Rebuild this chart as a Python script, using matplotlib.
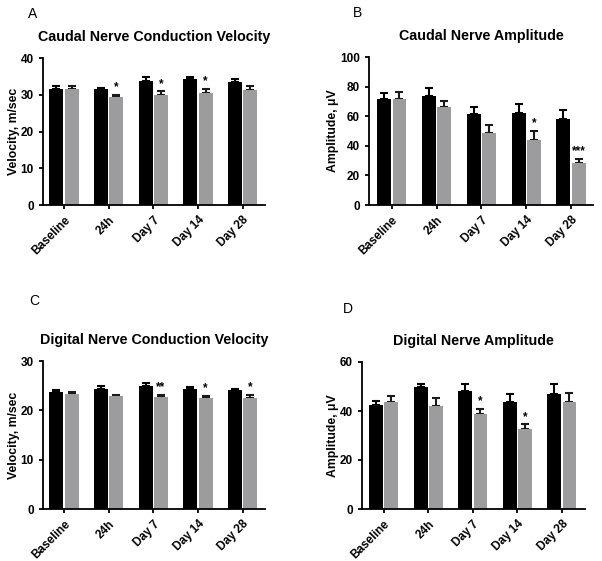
import matplotlib
matplotlib.use("Agg")
import matplotlib.pyplot as plt
import numpy as np

plt.rcParams['font.family'] = ['Liberation Sans', 'DejaVu Sans']
plt.rcParams['font.weight'] = 'bold'

groups = ["Baseline", "24h", "Day 7", "Day 14", "Day 28"]

# A - caudal NCV
a_ctrl = [31.5, 31.5, 33.8, 34.2, 33.6]
a_ctrl_err = [1.0, 0.3, 0.9, 0.6, 0.8]
a_trt = [31.5, 29.4, 29.8, 30.6, 31.4]
a_trt_err = [0.9, 0.6, 1.1, 1.1, 1.1]
a_stars = ["", "*", "*", "*", ""]

# B - caudal amplitude
b_ctrl = [71.6, 73.8, 61.4, 62.3, 58.2]
b_ctrl_err = [4.4, 5.4, 4.5, 5.9, 5.9]
b_trt = [71.6, 66.1, 48.5, 44.2, 28.2]
b_trt_err = [4.7, 4.3, 5.5, 5.9, 3.2]
b_stars = ["", "", "", "*", "***"]

# C - digital NCV
c_ctrl = [23.7, 24.4, 25.0, 24.4, 24.05]
c_ctrl_err = [0.35, 0.6, 0.5, 0.4, 0.25]
c_trt = [23.4, 22.9, 22.8, 22.6, 22.5]
c_trt_err = [0.3, 0.3, 0.3, 0.35, 0.7]
c_stars = ["", "", "**", "*", "*"]

# D - digital amplitude
d_ctrl = [42.6, 49.7, 48.0, 43.8, 46.9]
d_ctrl_err = [1.6, 1.5, 3.0, 3.1, 4.1]
d_trt = [43.7, 42.1, 38.7, 32.6, 43.6]
d_trt_err = [2.6, 3.2, 2.3, 2.0, 3.6]
d_stars = ["", "", "*", "*", ""]

W, H = 602, 561
fig = plt.figure(figsize=(W/100, H/100), dpi=100)

def px_axes(left, top, right, bottom):
    return fig.add_axes([left/W, 1-bottom/H, (right-left)/W, (bottom-top)/H])

def panel(ax, ctrl, ctrl_err, trt, trt_err, stars, ymax, step, ylabel, title, xlim):
    x = np.arange(len(groups))
    bw = 0.31
    ax.bar(x-0.17, ctrl, bw, color='black', zorder=2)
    ax.bar(x+0.17, trt, bw, color='#9c9c9e', zorder=2)
    ax.errorbar(x-0.17, ctrl, yerr=[np.zeros(5), ctrl_err], fmt='none',
                ecolor='black', elinewidth=1.5, capsize=3, capthick=1.5, zorder=1)
    ax.errorbar(x+0.17, trt, yerr=[np.zeros(5), trt_err], fmt='none',
                ecolor='#1a1a1a', elinewidth=1.5, capsize=3, capthick=1.5, zorder=1)
    for i, s in enumerate(stars):
        if s:
            ax.annotate(s, (x[i]+0.17, trt[i]+trt_err[i]), xytext=(0, 1),
                        textcoords='offset points', ha='center', va='bottom',
                        fontsize=8.5, fontweight='bold')
    ax.set_xlim(*xlim)
    ax.set_ylim(0, ymax)
    ax.set_yticks(np.arange(0, ymax+1, step))
    ax.set_xticks(x)
    ax.set_xticklabels(groups, rotation=45, ha='right', rotation_mode='anchor')
    ax.tick_params(labelsize=8.5, width=1.3, length=3)
    for lab in ax.get_xticklabels() + ax.get_yticklabels():
        lab.set_fontweight('bold')
    ax.spines['top'].set_visible(False)
    ax.spines['right'].set_visible(False)
    ax.spines['left'].set_linewidth(1.3)
    ax.spines['bottom'].set_linewidth(1.3)
    ax.set_ylabel(ylabel, fontsize=8.8, fontweight='bold', labelpad=0.5)
    ax.set_title(title, fontsize=10.25, fontweight='bold', pad=12)

axA = px_axes(43, 58, 265, 205)
panel(axA, a_ctrl, a_ctrl_err, a_trt, a_trt_err, a_stars, 40, 10,
      "Velocity, m/sec", "Caudal Nerve Conduction Velocity", (-0.47, 4.5))
axB = px_axes(369, 57, 593, 205)
panel(axB, b_ctrl, b_ctrl_err, b_trt, b_trt_err, b_stars, 100, 20,
      "Amplitude, \u03bcV", "Caudal Nerve Amplitude", (-0.51, 4.49))
axC = px_axes(43, 361, 265, 509)
panel(axC, c_ctrl, c_ctrl_err, c_trt, c_trt_err, c_stars, 30, 10,
      "Velocity, m/sec", "Digital Nerve Conduction Velocity", (-0.47, 4.5))
axD = px_axes(362, 362, 585, 509)
panel(axD, d_ctrl, d_ctrl_err, d_trt, d_trt_err, d_stars, 60, 20,
      "Amplitude, \u03bcV", "Digital Nerve Amplitude", (-0.49, 4.52))

for lab, px, py in [("A", 33, 14), ("B", 358, 13), ("C", 34, 301), ("D", 348, 309)]:
    fig.text(px/W, 1-py/H, lab, fontsize=10, fontweight='normal', ha='center', va='center')

fig.savefig("out.png", dpi=100)
